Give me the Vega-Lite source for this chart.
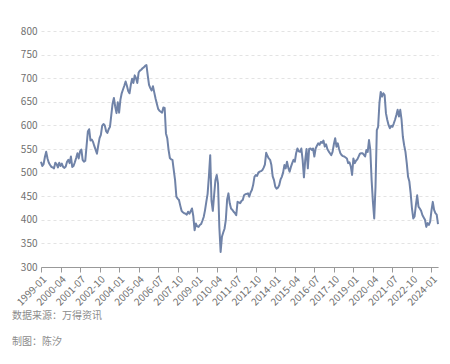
{
  "$schema": "https://vega.github.io/schema/vega-lite/v6.json",
  "width": 397,
  "height": 236,
  "autosize": {"type": "none"},
  "padding": {"left": 41, "top": 31, "right": 12, "bottom": 97},
  "background": "white",
  "config": {
    "font": "Noto Sans CJK SC",
    "view": {"stroke": null}
  },
  "title": {
    "text": "数据来源：万得资讯",
    "subtitle": "制图：陈汐",
    "orient": "bottom",
    "anchor": "start",
    "frame": "group",
    "dx": -29,
    "offset": 4,
    "fontSize": 10,
    "fontWeight": "normal",
    "color": "#8c8c8c",
    "subtitleFontSize": 10,
    "subtitleColor": "#8c8c8c",
    "subtitlePadding": 16
  },
  "data": {
    "values": [
      {"d":"1999-01","v":523},{"d":"1999-02","v":514},{"d":"1999-03","v":518},{"d":"1999-04","v":533},{"d":"1999-05","v":544},{"d":"1999-06","v":530},{"d":"1999-07","v":521},{"d":"1999-08","v":516},{"d":"1999-09","v":512},{"d":"1999-10","v":511},{"d":"1999-11","v":509},{"d":"1999-12","v":521},
      {"d":"2000-01","v":518},{"d":"2000-02","v":511},{"d":"2000-03","v":521},{"d":"2000-04","v":514},{"d":"2000-05","v":519},{"d":"2000-06","v":512},{"d":"2000-07","v":510},{"d":"2000-08","v":513},{"d":"2000-09","v":523},{"d":"2000-10","v":527},{"d":"2000-11","v":520},{"d":"2000-12","v":534},
      {"d":"2001-01","v":512},{"d":"2001-02","v":514},{"d":"2001-03","v":522},{"d":"2001-04","v":531},{"d":"2001-05","v":541},{"d":"2001-06","v":530},{"d":"2001-07","v":545},{"d":"2001-08","v":549},{"d":"2001-09","v":527},{"d":"2001-10","v":523},{"d":"2001-11","v":525},{"d":"2001-12","v":556},
      {"d":"2002-01","v":587},{"d":"2002-02","v":592},{"d":"2002-03","v":568},{"d":"2002-04","v":570},{"d":"2002-05","v":565},{"d":"2002-06","v":556},{"d":"2002-07","v":548},{"d":"2002-08","v":540},{"d":"2002-09","v":558},{"d":"2002-10","v":573},{"d":"2002-11","v":580},{"d":"2002-12","v":599},
      {"d":"2003-01","v":603},{"d":"2003-02","v":600},{"d":"2003-03","v":588},{"d":"2003-04","v":584},{"d":"2003-05","v":592},{"d":"2003-06","v":597},{"d":"2003-07","v":622},{"d":"2003-08","v":646},{"d":"2003-09","v":658},{"d":"2003-10","v":640},{"d":"2003-11","v":626},{"d":"2003-12","v":649},
      {"d":"2004-01","v":627},{"d":"2004-02","v":654},{"d":"2004-03","v":668},{"d":"2004-04","v":676},{"d":"2004-05","v":684},{"d":"2004-06","v":693},{"d":"2004-07","v":684},{"d":"2004-08","v":673},{"d":"2004-09","v":668},{"d":"2004-10","v":686},{"d":"2004-11","v":699},{"d":"2004-12","v":690},
      {"d":"2005-01","v":706},{"d":"2005-02","v":700},{"d":"2005-03","v":690},{"d":"2005-04","v":712},{"d":"2005-05","v":716},{"d":"2005-06","v":718},{"d":"2005-07","v":721},{"d":"2005-08","v":723},{"d":"2005-09","v":726},{"d":"2005-10","v":728},{"d":"2005-11","v":706},{"d":"2005-12","v":686},
      {"d":"2006-01","v":679},{"d":"2006-02","v":674},{"d":"2006-03","v":683},{"d":"2006-04","v":670},{"d":"2006-05","v":657},{"d":"2006-06","v":646},{"d":"2006-07","v":635},{"d":"2006-08","v":631},{"d":"2006-09","v":629},{"d":"2006-10","v":627},{"d":"2006-11","v":638},{"d":"2006-12","v":637},
      {"d":"2007-01","v":583},{"d":"2007-02","v":573},{"d":"2007-03","v":548},{"d":"2007-04","v":531},{"d":"2007-05","v":528},{"d":"2007-06","v":527},{"d":"2007-07","v":505},{"d":"2007-08","v":484},{"d":"2007-09","v":449},{"d":"2007-10","v":445},{"d":"2007-11","v":442},{"d":"2007-12","v":430},
      {"d":"2008-01","v":419},{"d":"2008-02","v":416},{"d":"2008-03","v":414},{"d":"2008-04","v":413},{"d":"2008-05","v":411},{"d":"2008-06","v":417},{"d":"2008-07","v":413},{"d":"2008-08","v":418},{"d":"2008-09","v":424},{"d":"2008-10","v":408},{"d":"2008-11","v":378},{"d":"2008-12","v":392},
      {"d":"2009-01","v":386},{"d":"2009-02","v":385},{"d":"2009-03","v":389},{"d":"2009-04","v":391},{"d":"2009-05","v":398},{"d":"2009-06","v":406},{"d":"2009-07","v":420},{"d":"2009-08","v":438},{"d":"2009-09","v":455},{"d":"2009-10","v":492},{"d":"2009-11","v":537},{"d":"2009-12","v":440},
      {"d":"2010-01","v":419},{"d":"2010-02","v":452},{"d":"2010-03","v":484},{"d":"2010-04","v":495},{"d":"2010-05","v":477},{"d":"2010-06","v":385},{"d":"2010-07","v":332},{"d":"2010-08","v":364},{"d":"2010-09","v":373},{"d":"2010-10","v":381},{"d":"2010-11","v":400},{"d":"2010-12","v":443},
      {"d":"2011-01","v":456},{"d":"2011-02","v":435},{"d":"2011-03","v":424},{"d":"2011-04","v":421},{"d":"2011-05","v":417},{"d":"2011-06","v":414},{"d":"2011-07","v":410},{"d":"2011-08","v":438},{"d":"2011-09","v":437},{"d":"2011-10","v":435},{"d":"2011-11","v":440},{"d":"2011-12","v":442},
      {"d":"2012-01","v":452},{"d":"2012-02","v":454},{"d":"2012-03","v":455},{"d":"2012-04","v":456},{"d":"2012-05","v":449},{"d":"2012-06","v":458},{"d":"2012-07","v":463},{"d":"2012-08","v":474},{"d":"2012-09","v":491},{"d":"2012-10","v":495},{"d":"2012-11","v":493},{"d":"2012-12","v":500},
      {"d":"2013-01","v":502},{"d":"2013-02","v":503},{"d":"2013-03","v":505},{"d":"2013-04","v":510},{"d":"2013-05","v":517},{"d":"2013-06","v":542},{"d":"2013-07","v":535},{"d":"2013-08","v":530},{"d":"2013-09","v":527},{"d":"2013-10","v":516},{"d":"2013-11","v":492},{"d":"2013-12","v":484},
      {"d":"2014-01","v":470},{"d":"2014-02","v":466},{"d":"2014-03","v":468},{"d":"2014-04","v":473},{"d":"2014-05","v":485},{"d":"2014-06","v":491},{"d":"2014-07","v":500},{"d":"2014-08","v":516},{"d":"2014-09","v":509},{"d":"2014-10","v":523},{"d":"2014-11","v":510},{"d":"2014-12","v":502},
      {"d":"2015-01","v":512},{"d":"2015-02","v":520},{"d":"2015-03","v":527},{"d":"2015-04","v":523},{"d":"2015-05","v":541},{"d":"2015-06","v":551},{"d":"2015-07","v":545},{"d":"2015-08","v":544},{"d":"2015-09","v":551},{"d":"2015-10","v":527},{"d":"2015-11","v":490},{"d":"2015-12","v":527},
      {"d":"2016-01","v":550},{"d":"2016-02","v":509},{"d":"2016-03","v":550},{"d":"2016-04","v":551},{"d":"2016-05","v":548},{"d":"2016-06","v":551},{"d":"2016-07","v":534},{"d":"2016-08","v":551},{"d":"2016-09","v":557},{"d":"2016-10","v":562},{"d":"2016-11","v":559},{"d":"2016-12","v":565},
      {"d":"2017-01","v":563},{"d":"2017-02","v":568},{"d":"2017-03","v":555},{"d":"2017-04","v":560},{"d":"2017-05","v":550},{"d":"2017-06","v":545},{"d":"2017-07","v":541},{"d":"2017-08","v":537},{"d":"2017-09","v":544},{"d":"2017-10","v":560},{"d":"2017-11","v":573},{"d":"2017-12","v":555},
      {"d":"2018-01","v":562},{"d":"2018-02","v":550},{"d":"2018-03","v":541},{"d":"2018-04","v":537},{"d":"2018-05","v":535},{"d":"2018-06","v":534},{"d":"2018-07","v":532},{"d":"2018-08","v":530},{"d":"2018-09","v":520},{"d":"2018-10","v":522},{"d":"2018-11","v":513},{"d":"2018-12","v":495},
      {"d":"2019-01","v":530},{"d":"2019-02","v":520},{"d":"2019-03","v":525},{"d":"2019-04","v":528},{"d":"2019-05","v":534},{"d":"2019-06","v":540},{"d":"2019-07","v":541},{"d":"2019-08","v":541},{"d":"2019-09","v":538},{"d":"2019-10","v":534},{"d":"2019-11","v":548},{"d":"2019-12","v":544},
      {"d":"2020-01","v":569},{"d":"2020-02","v":548},{"d":"2020-03","v":484},{"d":"2020-04","v":438},{"d":"2020-05","v":403},{"d":"2020-06","v":470},{"d":"2020-07","v":590},{"d":"2020-08","v":597},{"d":"2020-09","v":647},{"d":"2020-10","v":671},{"d":"2020-11","v":661},{"d":"2020-12","v":668},
      {"d":"2021-01","v":664},{"d":"2021-02","v":626},{"d":"2021-03","v":612},{"d":"2021-04","v":601},{"d":"2021-05","v":594},{"d":"2021-06","v":599},{"d":"2021-07","v":597},{"d":"2021-08","v":604},{"d":"2021-09","v":612},{"d":"2021-10","v":622},{"d":"2021-11","v":633},{"d":"2021-12","v":619},
      {"d":"2022-01","v":633},{"d":"2022-02","v":612},{"d":"2022-03","v":576},{"d":"2022-04","v":558},{"d":"2022-05","v":544},{"d":"2022-06","v":520},{"d":"2022-07","v":491},{"d":"2022-08","v":481},{"d":"2022-09","v":456},{"d":"2022-10","v":424},{"d":"2022-11","v":403},{"d":"2022-12","v":407},
      {"d":"2023-01","v":431},{"d":"2023-02","v":452},{"d":"2023-03","v":428},{"d":"2023-04","v":424},{"d":"2023-05","v":419},{"d":"2023-06","v":410},{"d":"2023-07","v":405},{"d":"2023-08","v":400},{"d":"2023-09","v":385},{"d":"2023-10","v":393},{"d":"2023-11","v":389},{"d":"2023-12","v":396},
      {"d":"2024-01","v":420},{"d":"2024-02","v":438},{"d":"2024-03","v":421},{"d":"2024-04","v":414},{"d":"2024-05","v":411},{"d":"2024-06","v":391}
    ]
  },
  "mark": {"type": "line", "color": "#7083a8", "strokeWidth": 2, "strokeJoin": "round"},
  "encoding": {
    "x": {
      "field": "d",
      "type": "ordinal",
      "scale": {"type": "point", "padding": 0},
      "axis": {
        "title": null,
        "values": ["1999-01","2000-04","2001-07","2002-10","2004-01","2005-04","2006-07","2007-10","2009-01","2010-04","2011-07","2012-10","2014-01","2015-04","2016-07","2017-10","2019-01","2020-04","2021-07","2022-10","2024-01"],
        "labelAngle": -45,
        "labelAlign": "right",
        "labelBaseline": "top",
        "labelFontSize": 10,
        "labelColor": "#707070",
        "labelPadding": 2,
        "domainColor": "#999999",
        "tickColor": "#999999",
        "tickSize": 5,
        "grid": false
      }
    },
    "y": {
      "field": "v",
      "type": "quantitative",
      "scale": {"domain": [300, 800], "nice": false, "zero": false},
      "axis": {
        "title": null,
        "values": [300,350,400,450,500,550,600,650,700,750,800],
        "domain": false,
        "ticks": false,
        "labelFontSize": 10,
        "labelColor": "#707070",
        "labelPadding": 4,
        "gridColor": "#e3e3e3",
        "gridDash": [3, 3]
      }
    }
  }
}
